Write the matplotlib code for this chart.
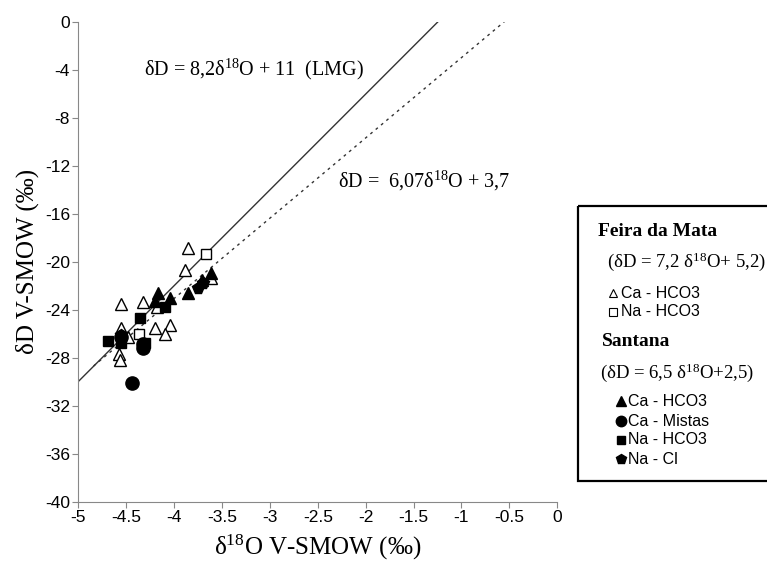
import matplotlib.pyplot as plt
from matplotlib.patches import Rectangle

plt.rcParams['font.family'] = ['Liberation Sans', 'DejaVu Sans']
plt.rcParams['mathtext.fontset'] = 'custom'
plt.rcParams['mathtext.rm'] = 'Liberation Serif'
plt.rcParams['mathtext.it'] = 'Liberation Serif:italic'

# Feira da Mata
fm_ca_x = [-3.85, -3.89, -3.61, -4.55, -4.32, -4.18, -4.20, -4.04, -4.10, -4.55, -4.48, -4.58, -4.56]
fm_ca_y = [-18.9, -20.7, -21.4, -23.5, -23.4, -23.8, -25.5, -25.3, -26.05, -25.55, -26.3, -27.7, -28.2]
fm_na_x = [-3.67, -4.37]
fm_na_y = [-19.4, -26.0]

# Santana
sa_ca_x = [-4.17, -4.04, -3.85, -3.71, -3.61, -4.20]
sa_ca_y = [-22.6, -23.0, -22.6, -21.5, -20.95, -23.3]
sa_mix_x = [-4.44, -4.32, -4.55, -4.32]
sa_mix_y = [-30.1, -27.2, -26.25, -26.9]
sa_na_x = [-4.69, -4.36, -4.10, -4.30, -4.55]
sa_na_y = [-26.6, -24.7, -23.75, -26.8, -26.8]
sa_cl_x = [-3.75, -4.55, -3.70]
sa_cl_y = [-22.2, -26.1, -21.8]

# linhas de referencia (extremos)
lmg_x = [-5.0, -1.245]
lmg_y = [-30.0, 0.0]
reg_x = [-4.84, -0.553]
reg_y = [-28.7, 0.0]

xticks = [-5, -4.5, -4, -3.5, -3, -2.5, -2, -1.5, -1, -0.5, 0]
yticks = [0, -4, -8, -12, -16, -20, -24, -28, -32, -36, -40]

fig = plt.figure(figsize=(7.67, 5.64), dpi=100)
ax = fig.add_axes([78.3/767, 1 - 501.5/564, (557.3 - 78.3)/767, (501.5 - 21.7)/564])

ax.plot(lmg_x, lmg_y, color='#333333', lw=1.0)
ax.plot(reg_x, reg_y, color='#333333', lw=1.0, linestyle=(0, (2, 3)))

ms = 8.5
ax.plot(fm_ca_x, fm_ca_y, '^', ms=ms, mfc='white', mec='black', mew=1.0, ls='none')
ax.plot(fm_na_x, fm_na_y, 's', ms=ms - 1, mfc='white', mec='black', mew=1.0, ls='none')
ax.plot(sa_ca_x, sa_ca_y, '^', ms=ms, color='black', ls='none')
ax.plot(sa_mix_x, sa_mix_y, 'o', ms=ms + 1, color='black', ls='none')
ax.plot(sa_na_x, sa_na_y, 's', ms=ms - 1, color='black', ls='none')
ax.plot(sa_cl_x, sa_cl_y, 'p', ms=ms, color='black', ls='none')

ax.set_xlim(-5, 0)
ax.set_ylim(-40, 0)
ax.set_xticks(xticks)
ax.set_xticklabels([f'{t:g}' for t in xticks])
ax.set_yticks(yticks)
ax.set_yticklabels([f'{t:g}' for t in yticks])
for s in ['top', 'right']:
    ax.spines[s].set_visible(False)
for s in ['left', 'bottom']:
    ax.spines[s].set_color('#888888')
ax.tick_params(direction='out', length=4, color='#888888', labelsize=12.5, pad=2)

ax.set_xlabel(r'δ$^{18}$O V-SMOW (‰)', family='Liberation Serif', fontsize=18, labelpad=6)
ax.set_ylabel('δD V-SMOW (‰)', family='Liberation Serif', fontsize=18, labelpad=4)

ax.text(-4.31, -4.0, r'δD = 8,2δ$^{18}$O + 11  (LMG)', family='Liberation Serif',
        fontsize=14.5, va='center', ha='left')
ax.text(-2.29, -13.3, r'δD =  6,07δ$^{18}$O + 3,7', family='Liberation Serif',
        fontsize=14.5, va='center', ha='left')

# legenda desenhada a mao
lax = fig.add_axes([0, 0, 1, 1], facecolor='none')
lax.set_xlim(0, 767)
lax.set_ylim(564, 0)
lax.axis('off')
lax.add_patch(Rectangle((577.5, 205.5), 200, 275, fill=False, ec='black', lw=1.6, clip_on=False))

serif = 'Liberation Serif'
lax.text(598, 232, 'Feira da Mata', family=serif, fontweight='bold', fontsize=14, va='center')
lax.text(607, 262, r'(δD = 7,2 δ$^{18}$O+ 5,2)', family=serif, fontsize=13.5, va='center')
lax.plot(613, 293, '^', ms=6, mfc='white', mec='black', mew=0.8)
lax.text(621, 293, 'Ca - HCO3', fontsize=11.5, va='center')
lax.plot(613, 312, 's', ms=5.5, mfc='white', mec='black', mew=0.8)
lax.text(621, 312, 'Na - HCO3', fontsize=11.5, va='center')
lax.text(602, 342, 'Santana', family=serif, fontweight='bold', fontsize=14, va='center')
lax.text(600, 373, r'(δD = 6,5 δ$^{18}$O+2,5)', family=serif, fontsize=13.5, va='center')
lax.plot(621, 401, '^', ms=7, color='black')
lax.text(628, 401, 'Ca - HCO3', fontsize=11.5, va='center')
lax.plot(621, 421, 'o', ms=7.5, color='black')
lax.text(628, 421, 'Ca - Mistas', fontsize=11.5, va='center')
lax.plot(621, 440, 's', ms=6, color='black')
lax.text(628, 440, 'Na - HCO3', fontsize=11.5, va='center')
lax.plot(621, 459, 'p', ms=7.5, color='black')
lax.text(628, 459, 'Na - Cl', fontsize=11.5, va='center')

fig.savefig('out.png', dpi=100)
